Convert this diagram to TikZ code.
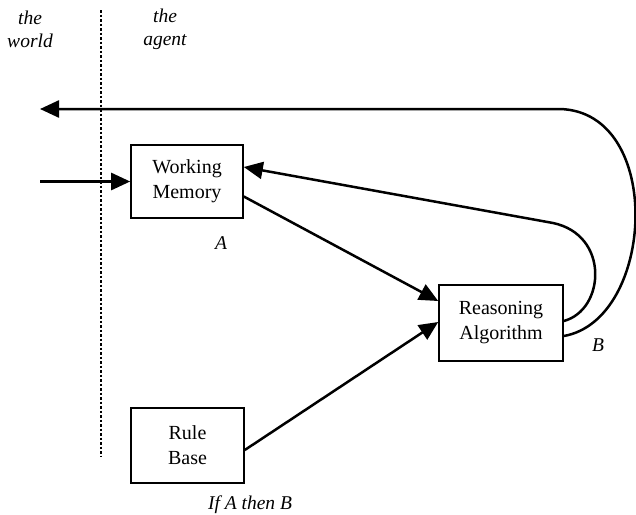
\documentclass[tikz,border=0pt]{standalone}
\usepackage{fontspec}
\setmainfont{Liberation Serif}
\usetikzlibrary{arrows.meta}
\begin{document}
\begin{tikzpicture}[x=1pt,y=-1pt,
  box/.style={draw,line width=1.6pt,inner sep=0pt,align=center,font=\fontsize{20}{25}\selectfont},
  lab/.style={inner sep=0pt,align=center,font=\fontsize{19.5}{23}\selectfont\itshape},
  conn/.style={line width=2.5pt,-{Triangle[length=19pt,width=17pt]}},
  divider/.style={line width=2.5pt,dash pattern=on 2.5pt off 2pt}]
\useasboundingbox (0,0) rectangle (636,514);
% divider
\coordinate (dtop) at (101,10);
\coordinate (dbot) at (101,456);
\draw[divider] (dtop) -- (dbot);
\node[lab] (world) at (30,29) {the\\world};
\node[lab] (agent) at (165,29) {the\\agent};
% boxes
\node[box,minimum width=112pt,minimum height=73pt] (wm) at (187,181.5) {Working\\Memory};
\node[box,minimum width=124pt,minimum height=76pt] (ra) at (501,323) {Reasoning\\Algorithm};
\node[box,minimum width=113pt,minimum height=75pt] (rb) at (187.5,445.5) {Rule\\Base};
% labels
\node[lab] (la) at (221,243) {A};
\node[lab] (lb) at (598,345) {B};
\node[lab] (lr) at (250,505) {If A then B};
% connectors
\coordinate (in) at (40,181.5);
\coordinate (out) at (40,109);
\draw[conn] (in) -- (wm.west);
\draw[conn] ([yshift=-15pt]wm.east) -- ([yshift=22pt]ra.west);
\draw[conn] ([yshift=-4.5pt]rb.east) -- ([yshift=1pt]ra.west);
\draw[conn] ([yshift=2pt]ra.east) .. controls (605,310) and (610,235) .. (553,223) -- ([yshift=14.5pt]wm.east);
\draw[conn] ([yshift=-13pt]ra.east) .. controls (655,320) and (665,112) .. (560,109) -- (out);
\end{tikzpicture}
\end{document}
